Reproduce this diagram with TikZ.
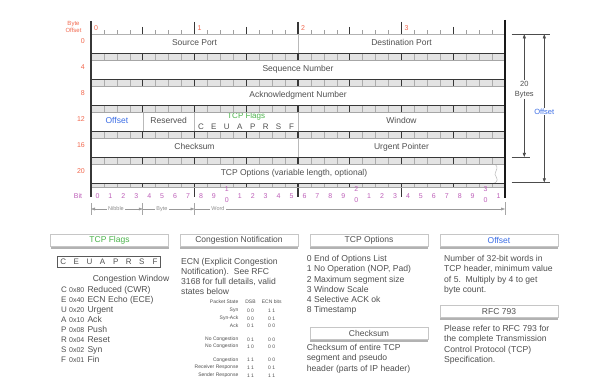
\documentclass[tikz,border=0pt]{standalone}
\usepackage{fontspec}
\setmainfont{Liberation Sans}
\usetikzlibrary{arrows.meta,shadows}
\definecolor{txt}{RGB}{80,80,80}
\definecolor{offred}{RGB}{242,104,78}
\definecolor{bitmag}{RGB}{190,95,185}
\definecolor{flaggreen}{RGB}{75,180,75}
\definecolor{offblue}{RGB}{60,110,230}
\definecolor{rulec}{RGB}{55,55,55}
\newcommand\tcpband[2]{%
  \fill[gray!22] (91,#1) rectangle (505,#2);
  \foreach \i in {1,...,31}{%
    \pgfmathsetmacro\xx{91+\i*12.9375}%
    \pgfmathtruncatemacro\m{mod(\i,16)==0 ? 3 : (mod(\i,8)==0 ? 2 : (mod(\i,4)==0 ? 1 : 0))}%
    \ifcase\m
      \draw[gray!65,line width=0.5pt] (\xx,#1) -- (\xx,#2);
    \or
      \draw[rulec,line width=0.9pt] (\xx,#1) -- (\xx,#2);
    \or
      \draw[rulec,line width=1.4pt] (\xx,#1) -- (\xx,#2);
    \or
      \draw[rulec,line width=1.8pt] (\xx,#1) -- (\xx,#2);
    \fi
  }%
  \draw[rulec,line width=0.9pt] (91,#1) -- (505,#1);
  \draw[gray!70,line width=0.6pt] (91,#2) -- (505,#2);
}
\begin{document}
\begin{tikzpicture}[x=1pt,y=-1pt,
  field/.style={draw=gray!55, line width=0.5pt, fill=white, minimum height=19.5pt,
    inner sep=0pt, outer sep=0pt, text=txt, font=\fontsize{8.5}{10}\selectfont,
    text height=6.1pt, text depth=1.9pt},
  fieldtext/.style={inner sep=0pt, text=txt, font=\fontsize{8.5}{10}\selectfont,
    text height=6.1pt, text depth=1.9pt},
  offlbl/.style={text=offred, font=\fontsize{7}{8}\selectfont, anchor=east, inner sep=0pt},
  bytelbl/.style={text=offred, font=\fontsize{7}{8}\selectfont, anchor=west, inner sep=0pt},
  bitlbl/.style={text=bitmag, font=\fontsize{7}{8}\selectfont, inner sep=0pt},
  hdr/.style={draw=gray!45, fill=white, minimum width=118pt, minimum height=12pt,
    inner sep=0pt, text=txt, font=\fontsize{8.5}{10}\selectfont,
    drop shadow={shadow xshift=0pt, shadow yshift=-2pt, opacity=0.5, fill=black!60}},
  body/.style={anchor=west, inner sep=0pt, text=txt, font=\fontsize{8.6}{10.3}\selectfont,
    text height=6.1pt, text depth=1.9pt},
  tinytxt/.style={inner sep=0pt, text=txt, font=\fontsize{5}{6}\selectfont},
  letter/.style={inner sep=0pt, text=txt, font=\fontsize{8}{9}\selectfont},
  dimlbl/.style={fill=white, inner sep=1pt, align=center, text=txt,
    font=\fontsize{7.5}{10.5}\selectfont},
  dimarrow/.style={draw=black!70, line width=0.5pt, -{Triangle[length=4pt,width=3pt]}},
  nbw/.style={fill=white, inner sep=1.5pt, text=gray!90, font=\fontsize{5.5}{6}\selectfont},
  nbwline/.style={draw=gray!80, line width=0.5pt},
  nbwarrow/.style={draw=gray!80, line width=0.5pt, -{Triangle[length=4pt,width=2.8pt]}}
]
\useasboundingbox (0,0) rectangle (605,385);
\fill[white] (0,0) rectangle (605,385);

% ---- fields
\node[field, minimum width=207pt] (srcport) at (194.5,43.75) {Source Port};
\node[field, minimum width=207pt] (dstport) at (401.5,43.75) {Destination Port};
\node[field, minimum width=414pt] (seqnum) at (298,69.75) {Sequence Number};
\node[field, minimum width=414pt] (acknum) at (298,95.75) {Acknowledgment Number};
\node[field, minimum width=51.75pt, text=offblue] (offsetf) at (116.875,121.75) {Offset};
\node[field, minimum width=51.75pt] (reserved) at (168.625,121.75) {Reserved};
\node[field, minimum width=103.5pt] (flags) at (246.25,121.75) {};
\node[field, minimum width=207pt] (window) at (401.5,121.75) {Window};
\node[field, minimum width=207pt] (checksum) at (194.5,147.75) {Checksum};
\node[field, minimum width=207pt] (urgent) at (401.5,147.75) {Urgent Pointer};
\draw[draw=gray!55, line width=0.5pt, fill=white] (91,164) -- (493,164)
  .. controls (497,164) and (498,168) .. (496,171)
  .. controls (494.5,173.5) and (494.5,175) .. (496.5,177.5)
  .. controls (498.5,180.5) and (496,183.5) .. (492,183.5) -- (91,183.5) -- cycle;
\node[fieldtext] (options) at (294,173.75) {TCP Options (variable length, optional)};

\node[inner sep=0pt, text=flaggreen, font=\fontsize{8}{9}\selectfont] (flagslbl) at (246.25,116) {TCP Flags};
\foreach \l [count=\i from 0] in {C,E,U,A,P,R,S,F}
  \node[letter] (mf\i) at ({91+(8.5+\i)*12.9375},126.5) {\l};

% ---- separator bands
\tcpband{53.5}{60}
\tcpband{79.5}{86}
\tcpband{105.5}{112}
\tcpband{131.5}{138}
\tcpband{157.5}{164}
\tcpband{183.5}{187.5}

% ---- top ruler
\foreach \i in {1,...,31}{%
  \pgfmathsetmacro\xx{91+\i*12.9375}%
  \pgfmathtruncatemacro\m{mod(\i,16)==0 ? 3 : (mod(\i,8)==0 ? 2 : (mod(\i,4)==0 ? 1 : 0))}%
  \ifcase\m
    \draw[gray!75,line width=0.55pt] (\xx,30.5) -- (\xx,34);
  \or
    \draw[rulec,line width=1pt] (\xx,27) -- (\xx,34);
  \or
    \draw[rulec,line width=1.3pt] (\xx,22) -- (\xx,34);
  \or
    \draw[rulec,line width=1.8pt] (\xx,22) -- (\xx,34);
  \fi
}
\draw[gray!60, line width=0.5pt] (91,34) -- (505,34);
% bottom ruler extended byte ticks
\draw[rulec,line width=1.3pt] (194.5,187.5) -- (194.5,196.5) (401.5,187.5) -- (401.5,196.5);
\draw[rulec,line width=1.8pt] (298,187.5) -- (298,197);

% ---- outer edges
\draw[rulec, line width=1.3pt] (91,21) -- (91,196.5);
\draw[black!90, line width=1.8pt] (505,20) -- (505,197.5);

% ---- byte offset labels
\node[inner sep=0pt, align=center, text=offred, font=\fontsize{6}{7.6}\selectfont] (byteoff) at (73.5,26.8) {Byte\\Offset};
\foreach \k/\lab in {0/0,1/4,2/8,3/12,4/16,5/20}
  \node[offlbl] (boff\k) at (85,{41+26*\k}) {\lab};
\foreach \k in {0,1,2,3}
  \node[bytelbl] (byte\k) at ({94+103.5*\k},28) {\k};

% ---- bit labels
\node[bitlbl] (bitlabel) at (78,196) {Bit};
\foreach \i in {0,...,31}{%
  \pgfmathsetmacro\xx{91+(\i+0.5)*12.9375}%
  \pgfmathtruncatemacro\dd{mod(\i,10)}%
  \pgfmathtruncatemacro\tens{floor(\i/10)}%
  \ifnum\dd=0
    \ifnum\i>0
      \node[bitlbl] (bitt\i) at (\xx,188.6) {\tens};
      \node[bitlbl] (bit\i) at (\xx,200) {0};
    \else
      \node[bitlbl] (bit\i) at (\xx,195.7) {0};
    \fi
  \else
    \node[bitlbl] (bit\i) at (\xx,195.7) {\dd};
  \fi
}

% ---- nibble / byte / word
\draw[gray!70, line width=0.6pt] (91,203) -- (91,215) (142.75,203) -- (142.75,215)
  (194.5,203) -- (194.5,215) (505,202) -- (505,215);
\coordinate (nibL) at (91,209);
\coordinate (nibR) at (142.75,209);
\coordinate (bytR) at (194.5,209);
\coordinate (wrdR) at (505,209);
\node[nbw] (nib) at (116,209) {Nibble};
\node[nbw] (byt) at (162,209) {Byte};
\node[nbw] (wrd) at (218,209) {Word};
\draw[nbwarrow] (nib) -- (nibL);
\draw[nbwarrow] (nib) -- (nibR);
\draw[nbwline] (nibR) -- (byt);
\draw[nbwarrow] (byt) -- (bytR);
\draw[nbwline] (bytR) -- (wrd);
\draw[nbwarrow] (wrd) -- (wrdR);

% ---- dimensions on the right
\draw[black!70, line width=0.5pt] (511.7,34) -- (550,34) (511.7,157.3) -- (530,157.3) (511.7,182.7) -- (550,182.7);
\coordinate (d20top) at (524.3,34.3);
\coordinate (d20bot) at (524.3,157);
\coordinate (offtop) at (544.3,34.3);
\coordinate (offbot) at (544.3,182.4);
\node[dimlbl] (d20) at (524.3,89.5) {20\\Bytes};
\node[dimlbl, text=offblue] (doff) at (544.3,111.5) {Offset};
\draw[dimarrow] (d20) -- (d20top);
\draw[dimarrow] (d20) -- (d20bot);
\draw[dimarrow] (doff) -- (offtop);
\draw[dimarrow] (doff) -- (offbot);

% ---- bottom panels: headers
\node[hdr, text=flaggreen] (hflags) at (109.5,240.5) {TCP Flags};
\node[hdr] (hcong) at (239,240.5) {Congestion Notification};
\node[hdr] (hopts) at (369,240.5) {TCP Options};
\node[hdr, text=offblue] (hoff) at (499,240.5) {Offset};
\node[hdr] (hcsum) at (369,333.5) {Checksum};
\node[hdr] (hrfc) at (499,311.5) {RFC 793};

% ---- column 1: TCP flags
\node[draw=gray!70!black, line width=0.7pt, fill=white, minimum width=103pt, minimum height=10.5pt,
  inner sep=0pt, drop shadow={shadow xshift=0pt, shadow yshift=-1.2pt, opacity=0.35, fill=black!60}] (fbox) at (108.5,261.7) {};
\foreach \l [count=\i from 0] in {C,E,U,A,P,R,S,F}
  \node[letter] (fl\i) at ({63.3+13.1*\i},261.7) {\l};
\node[body, anchor=center] (cwin) at (131,279) {Congestion Window};
\foreach \fl/\fh/\ft [count=\i from 0] in {C/0x80/Reduced (CWR),E/0x40/ECN Echo (ECE),U/0x20/Urgent,A/0x10/Ack,P/0x08/Push,R/0x04/Reset,S/0x02/Syn,F/0x01/Fin}
  \node[body] (fline\i) at (61,{290+10*\i}) {\makebox[8pt][l]{\fontsize{8}{9}\selectfont\fl}\makebox[18.3pt][l]{\fontsize{7}{8}\selectfont\fh}\ft};

% ---- column 2: congestion notification
\foreach \t [count=\i from 0] in {{ECN (Explicit Congestion},{Notification).\ \ See RFC},{3168 for full details, valid},{states below}}
  \node[body] (ecn\i) at (181,{262+10.1*\i}) {\t};
\foreach \st/\dsb/\ecn/\yy [count=\i from 0] in {Packet State/DSB/ECN bits/301.7,Syn/0 0/1 1/310.7,Syn-Ack/0 0/0 1/318.3,Ack/0 1/0 0/325.7,No Congestion/0 1/0 0/339.3,No Congestion/1 0/0 0/346.7,Congestion/1 1/0 0/360,Receiver Response/1 1/0 1/367.7,Sender Response/1 1/1 1/375.7}{
  \node[tinytxt, anchor=east] (ps\i) at (238.5,\yy) {\st};
  \node[tinytxt] (dsb\i) at (250.5,\yy) {\dsb};
  \node[tinytxt] (eb\i) at (271.7,\yy) {\ecn};
}

% ---- column 3: TCP options + checksum
\foreach \t [count=\i from 0] in {0 End of Options List,{1 No Operation (NOP, Pad)},2 Maximum segment size,3 Window Scale,4 Selective ACK ok,8 Timestamp}
  \node[body] (opt\i) at (306.7,{259.3+10.3*\i}) {\t};
\foreach \t [count=\i from 0] in {Checksum of entire TCP,segment and pseudo,header (parts of IP header)}
  \node[body] (cs\i) at (306.7,{348.3+10.3*\i}) {\t};

% ---- column 4: offset + RFC
\foreach \t [count=\i from 0] in {Number of 32-bit words in,{TCP header, minimum value},{of 5.\ \ Multiply by 4 to get},byte count.}
  \node[body] (ofs\i) at (444,{259.3+10.3*\i}) {\t};
\foreach \t [count=\i from 0] in {Please refer to RFC 793 for,the complete Transmission,Control Protocol (TCP),Specification.}
  \node[body] (rfc\i) at (444,{329.3+10.3*\i}) {\t};
\end{tikzpicture}
\end{document}
